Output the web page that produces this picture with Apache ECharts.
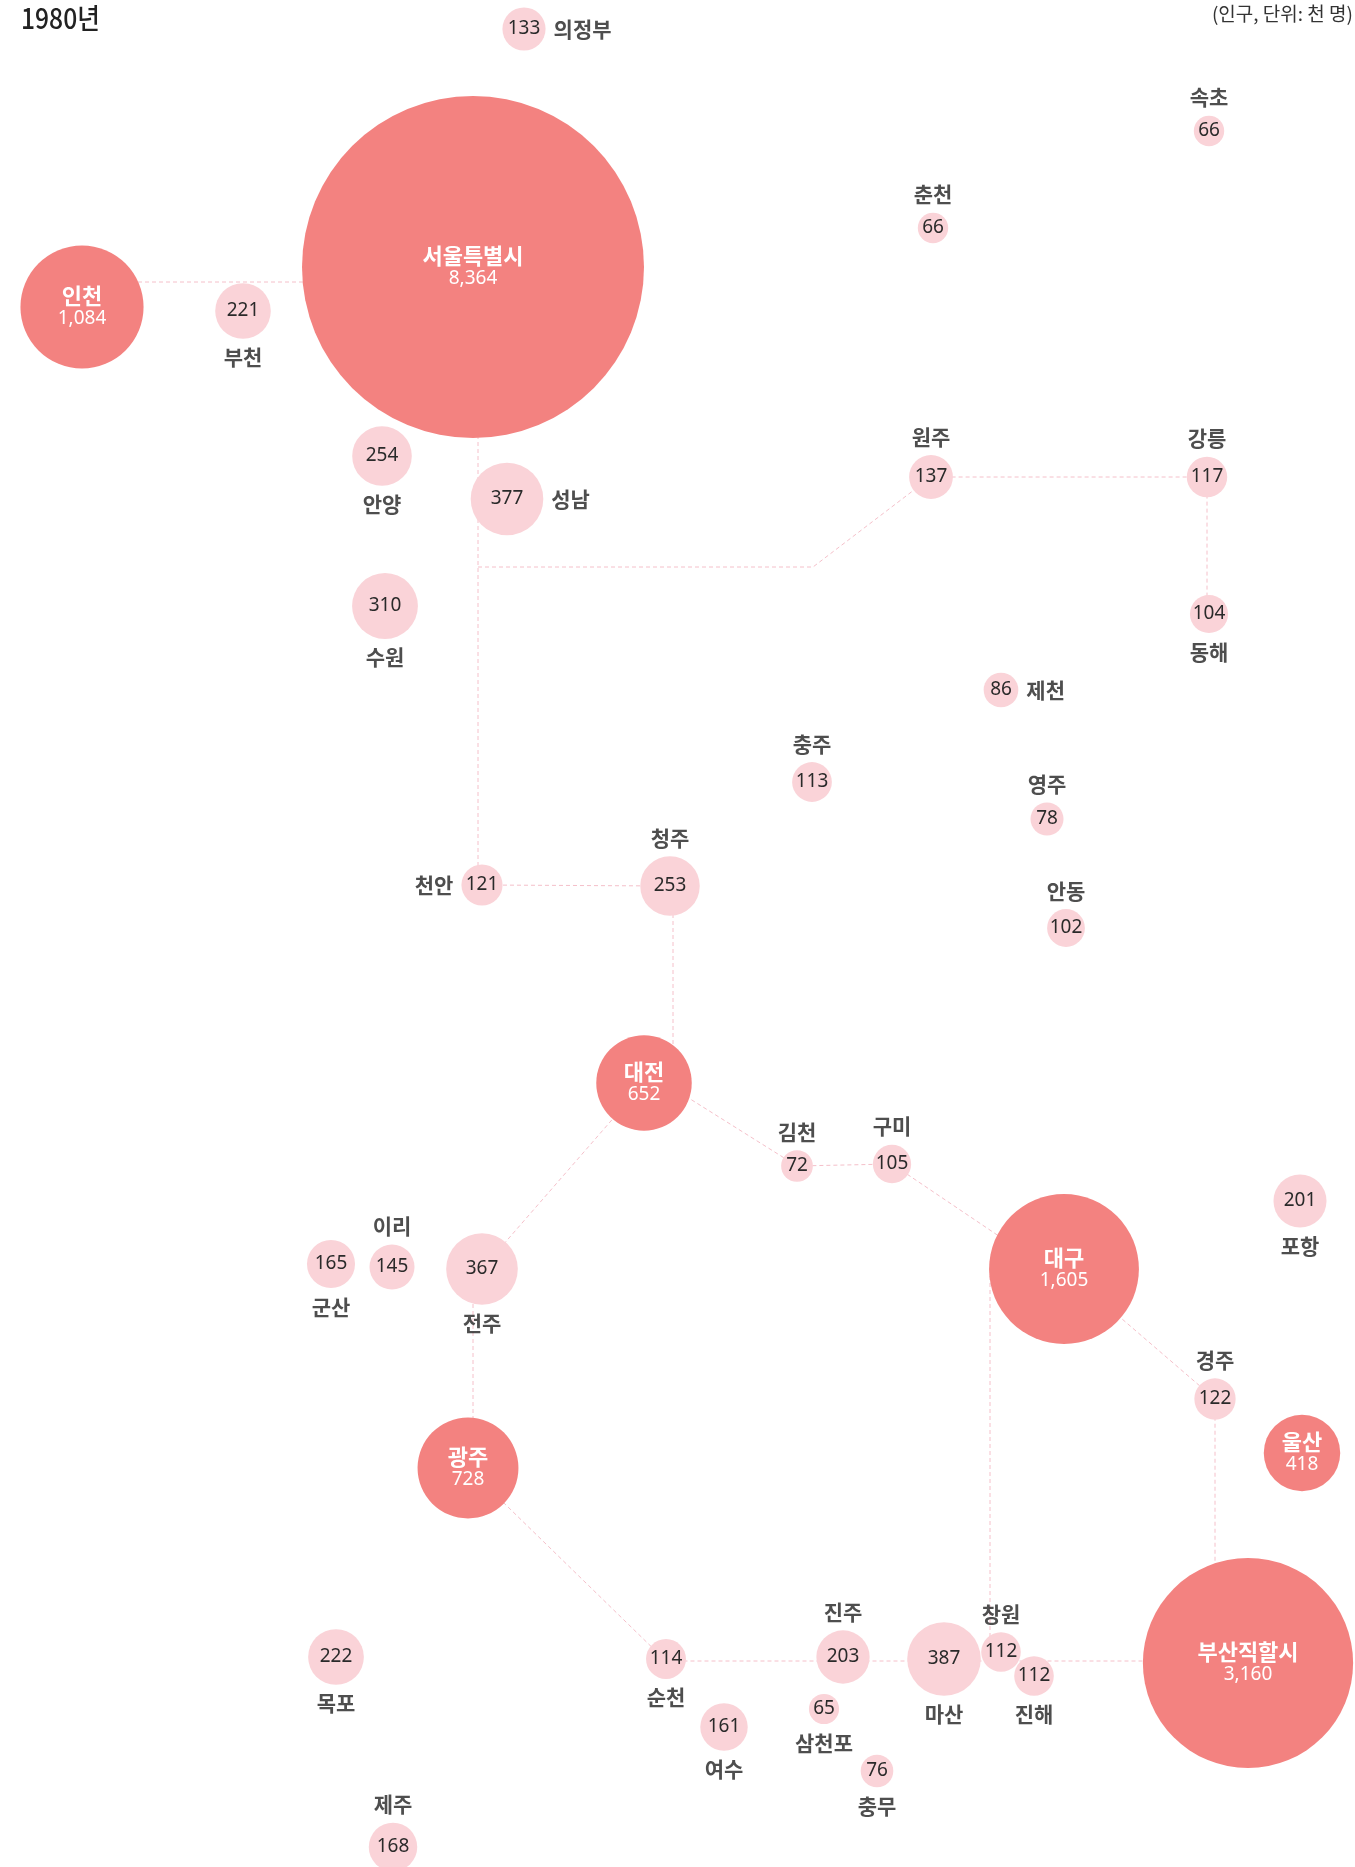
<!DOCTYPE html>
<html>
<head>
<meta charset="utf-8">
<script src="https://cdn.jsdelivr.net/npm/echarts@6/dist/echarts.min.js"></script>
<style>
html,body{margin:0;padding:0;background:#fff;}
#chart{width:1355px;height:1867px;}
</style>
</head>
<body>
<div id="chart"></div>
<script>
// ---- data (schematic map units; population in thousands, 1980) ----
var cities = ['서울특별시','인천','부천','의정부','속초','춘천','안양','성남','수원','원주','강릉','동해','제천','충주','영주','청주','천안','안동','대전','김천','구미','대구','포항','경주','울산','군산','이리','전주','광주','목포','순천','여수','진주','삼천포','충무','마산','창원','진해','부산직할시','제주'];
var population = [8364,1084,221,133,66,66,254,377,310,137,117,104,86,113,78,253,121,102,652,72,105,1605,201,122,418,165,145,367,728,222,114,161,203,65,76,387,112,112,3160,168];
var mapX = [473,82,243,524,1209,933,382,507,385,931,1207,1209,1001,812,1047,670,482,1066,644,797,892,1064,1300,1215,1302,331,392,482,468,336,666,724,843,824,877,944,1001,1034,1248,393];
var mapY = [267,307,311,29,131,228,456,499,606,477,477,614,690,782,819,886,885,928,1083,1166,1164,1269,1201,1399,1453,1264,1267,1269,1468,1657,1659,1727,1657,1709,1771,1659,1652,1676,1663,1847];
var namePlace = ['inside','inside','bottom','right','top','top','bottom','right','bottom','top','top','bottom','right','top','top','top','left','top','inside','top','top','inside','bottom','top','inside','bottom','top','bottom','inside','bottom','bottom','bottom','top','bottom','bottom','bottom','top','bottom','inside','top'];
// connection routes (schematic map units)
var routes = [
  [[82,282],[473,282]],
  [[478,400],[478,885]],
  [[478,567],[813,567],[931,477],[1207,477],[1207,614]],
  [[482,885],[670,886]],
  [[673,886],[673,1083]],
  [[644,1070],[797,1166],[892,1164],[1064,1280]],
  [[644,1083],[482,1269]],
  [[473,1269],[473,1468]],
  [[468,1468],[666,1661],[1248,1661]],
  [[990,1269],[990,1652]],
  [[1064,1269],[1215,1399],[1215,1663]]
];
var title = '1980년';
var unitNote = '(인구, 단위: 천 명)';

// ---- build ----
var DARK = '#f38280', LIGHT = '#fad3d8';
var FONT = "'Noto Sans', 'Noto Sans CJK KR', sans-serif";
function fmt(v){ return v.toLocaleString('en-US'); }
function sizeOf(v){ return 342 * Math.sqrt(v[2] / 8364); }

var bubbleData = [], nameData = [];
for (var i = 0; i < cities.length; i++) {
  var big = namePlace[i] === 'inside';
  bubbleData.push({
    name: cities[i],
    value: [mapX[i], mapY[i], population[i]],
    itemStyle: { color: big ? DARK : LIGHT, opacity: 1 },
    label: big ? {
      formatter: '{n|' + cities[i] + '}\n{v|' + fmt(population[i]) + '}'
    } : { formatter: fmt(population[i]) }
  });
  if (!big) {
    nameData.push({
      name: cities[i],
      value: [mapX[i], mapY[i], population[i]],
      label: { position: namePlace[i] }
    });
  }
}

var chart = echarts.init(document.getElementById('chart'));
chart.setOption({
  animation: false,
  backgroundColor: '#fff',
  graphic: [
    { type: 'text', left: 21, top: 4, scaleX: 0.88,
      style: { text: title, font: "500 28px 'Noto Sans CJK KR'", fill: '#222' } },
    { type: 'text', right: 2, top: 4,
      style: { text: unitNote, font: "19px 'Noto Sans CJK KR'", fill: '#333' } }
  ],
  grid: { left: 0, right: 0, top: 0, bottom: 0 },
  xAxis: { type: 'value', min: 0, max: 1355, show: false },
  yAxis: { type: 'value', min: 0, max: 1867, inverse: true, show: false },
  series: [
    {
      type: 'lines',
      coordinateSystem: 'cartesian2d',
      polyline: true,
      silent: true,
      lineStyle: { color: '#f5c0ca', width: 1, type: [4, 3], opacity: 1 },
      data: routes.map(function (r) { return { coords: r }; })
    },
    {
      type: 'scatter',
      symbol: 'circle',
      symbolSize: sizeOf,
      data: bubbleData,
      itemStyle: { opacity: 1 },
      label: {
        show: true,
        position: 'inside',
        fontFamily: FONT,
        fontSize: 19,
        color: '#2a2a2a',
        rich: {
          n: { fontFamily: "'Noto Sans CJK KR'", fontSize: 22, fontWeight: 'bold', color: '#fff', lineHeight: 23 },
          v: { fontFamily: FONT, fontSize: 19, color: '#fff', lineHeight: 22 }
        }
      }
    },
    {
      type: 'scatter',
      symbol: 'circle',
      symbolSize: sizeOf,
      data: nameData,
      itemStyle: { color: 'rgba(0,0,0,0)' },
      silent: true,
      label: {
        show: true,
        distance: 8,
        formatter: '{b}',
        fontFamily: "'Noto Sans CJK KR'",
        fontSize: 21,
        fontWeight: 'bold',
        color: '#222'
      }
    }
  ]
});
</script>
</body>
</html>
